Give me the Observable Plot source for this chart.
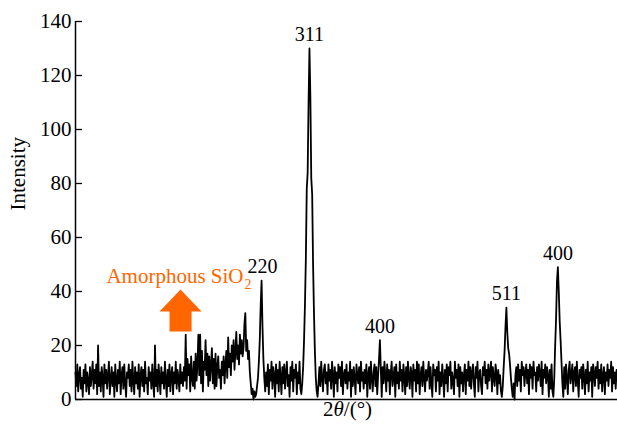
<!DOCTYPE html>
<html><head><meta charset="utf-8">
<script src="https://cdn.jsdelivr.net/npm/d3@7"></script>
<script src="https://cdn.jsdelivr.net/npm/@observablehq/plot@0.6"></script>
<style>
body{margin:0;background:#fff}
#chart svg text{font-family:'Liberation Serif','Times New Roman',serif}
</style>
</head><body><div id="chart"></div>
<script>
// 2θ sampling of the pattern
const thetaStart = 10;
const thetaStep = 0.1;
// Intensity, one row per degree (10.0 … 70.0)
const intensity = [
  10,5,13,3,9,12,4,8,1,11,
  6,13,3,10,7,2,12,5,9,14,
  4,11,6,13,2,20,5,10,3,12,
  8,1,13,6,11,4,9,14,2,7,
  12,5,10,1,13,7,3,11,6,14,
  2,9,12,4,13,6,1,10,8,13,
  5,11,3,14,7,2,12,6,10,4,
  13,1,9,12,5,11,3,14,6,8,
  2,12,7,10,4,13,6,1,20,5,
  11,3,13,8,2,12,6,10,4,14,
  7,1,11,5,13,3,9,12,2,10,
  6,14,4,11,8,3,13,6,10,5,
  12,7,24,4,15,9,13,3,16,8,
  5,14,4,17,7,13,24,9,24,6,
  18,3,14,11,22,9,17,5,16,7,
  13,19,6,15,4,17,5,12,16,8,
  11,4,14,9,16,6,13,18,8,23,
  12,17,9,20,14,22,11,18,25,15,
  20,13,24,17,22,16,19,28,32,18,
  22,15,18,10,6,2,4,0,3,1,
  2,5,8,14,22,35,44,27,15,8,
  3,10,5,13,2,11,7,14,4,12,
  9,1,13,6,11,3,14,8,2,12,
  6,13,4,10,14,5,9,1,12,7,
  14,3,11,8,13,2,10,6,14,4,
  2,6,12,22,35,52,78,84,110,130,
  112,82,76,50,32,18,8,3,1,6,
  12,5,14,8,3,11,13,6,10,2,
  13,7,11,4,14,9,1,12,6,10,
  3,13,8,12,5,14,2,9,11,6,
  13,4,10,7,14,1,11,5,12,8,
  2,13,9,6,12,3,14,7,10,4,
  11,6,13,1,9,12,4,14,8,3,
  10,13,5,12,2,9,15,22,11,1,
  12,6,14,9,3,13,7,11,2,10,
  14,5,8,12,1,13,6,10,4,14,
  7,11,3,13,9,2,12,5,14,8,
  4,12,10,1,13,7,11,3,14,6,
  13,2,9,12,5,14,8,3,11,7,
  10,14,4,12,6,1,13,9,11,3,
  12,7,14,2,10,5,13,8,1,11,
  6,13,3,12,9,14,4,10,7,2,
  14,8,11,5,13,1,12,6,10,3,
  9,13,2,11,7,14,5,12,4,10,
  13,6,1,12,8,14,3,10,11,5,
  2,12,9,14,6,11,4,13,7,10,
  14,3,12,8,5,13,10,2,11,6,
  9,3,1,5,12,18,27,34,25,19,
  17,13,8,4,1,6,0,9,12,5,
  13,7,11,3,14,9,12,5,10,13,
  6,11,2,13,8,12,4,14,9,10,
  3,12,7,13,10,5,14,2,11,8,
  13,6,12,9,1,11,4,13,3,1,
  8,20,30,44,49,40,29,22,14,6,
  1,12,4,13,8,2,11,14,6,9,
  13,3,10,12,5,14,7,1,11,8,
  12,4,13,9,2,11,6,14,3,10,
  7,12,1,13,10,5,12,8,14,4,
  11,6,13,3,9,12,2,10,7,13,
  5,11,8,14,3,12,6,10,4,11,
  9
];
const yTicks = [0, 20, 40, 60, 80, 100, 120, 140];
const xDomain = [10, 70];
const yDomain = [0, 140];

// Peak annotations
const peakLabels = ["220", "311", "400", "511", "400"];
const peakTheta = [30.7, 35.9, 43.7, 57.7, 63.4];
const peakTop = [44, 130, 22, 34, 49];

// Amorphous SiO2 annotation
const amorphText = "Amorphous SiO";
const amorphSub = "2";
const amorphTheta = 28.6;
const amorphI = 45.6;
const amorphSubI = 42.6;
const arrowTheta = [21.63, 23.95, 22.85, 22.85, 20.41, 20.41, 19.30, 21.63];
const arrowI = [40.7, 32.6, 32.6, 25.2, 25.2, 32.6, 32.6, 40.7];

const yLabel = "Intensity";
const xLabel = "2θ/(°)";

const orange = "#FF6600";

const pattern = intensity.map((v, i) => ({theta: +(thetaStart + i * thetaStep).toFixed(1), v}));
const peaks = peakLabels.map((t, i) => ({t, x: peakTheta[i], y: peakTop[i]}));
const arrow = arrowTheta.map((x, i) => ({x, y: arrowI[i]}));

const chart = Plot.plot({
  width: 617,
  height: 428,
  marginLeft: 75,
  marginRight: 0,
  marginTop: 21,
  marginBottom: 29,
  style: {fontFamily: "'Liberation Serif', 'Times New Roman', serif", fontSize: "21px", color: "#000", background: "#fff"},
  x: {domain: xDomain, axis: null},
  y: {domain: yDomain},
  marks: [
    Plot.axisY(yTicks, {tickSize: 0, tickPadding: 4, label: null, fontSize: 21}),
    Plot.ruleY(yTicks, {insetRight: 535, stroke: "#000", strokeWidth: 1.3}),
    Plot.ruleX([xDomain[0]], {stroke: "#000", strokeWidth: 1.5}),
    Plot.ruleY([0], {stroke: "#000", strokeWidth: 1.5}),
    Plot.line(pattern, {x: "theta", y: "v", stroke: "#000", strokeWidth: 1.8}),
    Plot.line(arrow, {x: "x", y: "y", fill: orange, stroke: "none"}),
    Plot.text(peaks, {x: "x", y: "y", text: "t", dy: -14, fontSize: 20, fill: "#000"}),
    Plot.text([amorphText], {x: () => amorphTheta, y: () => amorphI, text: d => d, textAnchor: "end", fill: orange, fontSize: 21}),
    Plot.text([amorphSub], {x: () => amorphTheta, y: () => amorphSubI, text: d => d, textAnchor: "start", dx: 1, fill: orange, fontSize: 14}),
    Plot.text([yLabel], {frameAnchor: "left", rotate: -90, dx: -57, text: d => d, fontSize: 21}),
    Plot.text([xLabel], {frameAnchor: "bottom", dy: 16, dx: 1, text: d => d, fontSize: 21})
  ]
});
document.getElementById("chart").append(chart);

// italic θ in the x label
d3.select(chart).selectAll("text").filter(function() { return this.textContent === xLabel; })
  .each(function() {
    const t = d3.select(this);
    t.text(null);
    t.append("tspan").text("2");
    t.append("tspan").attr("font-style", "italic").text("θ");
    t.append("tspan").text("/(°)");
  });
</script>
</body></html>
